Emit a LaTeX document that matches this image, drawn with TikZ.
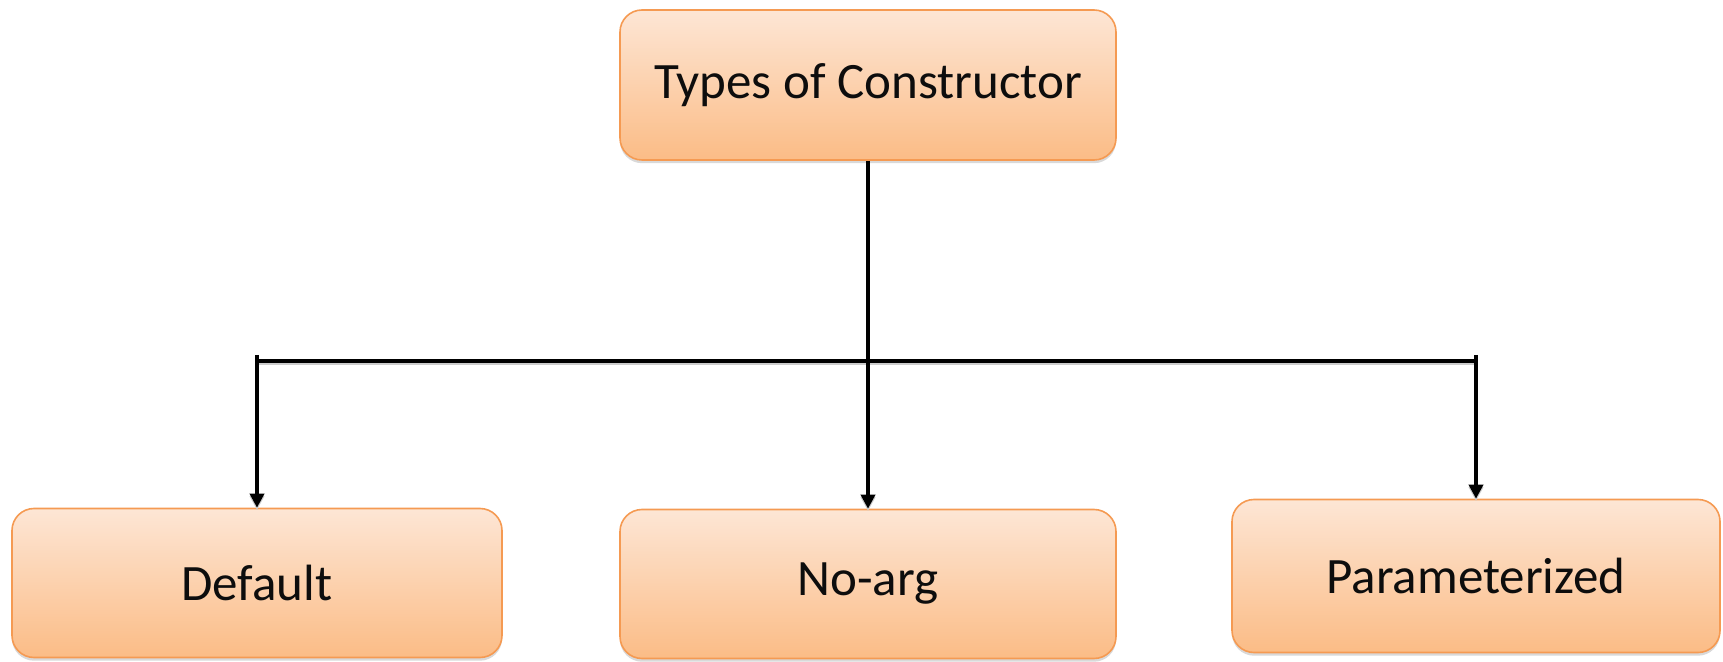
\documentclass[tikz,border=0pt]{standalone}
\usepackage{fontspec}
\setmainfont{Carlito}
\usetikzlibrary{arrows.meta,shadows}
\definecolor{boxtop}{HTML}{FDE6D5}
\definecolor{boxbot}{HTML}{FBBC86}
\definecolor{boxline}{HTML}{F59A52}
\tikzset{
  kindbox/.style={draw=boxline, line width=0.8pt, rounded corners=11pt,
    top color=boxtop, bottom color=boxbot,
    drop shadow={shadow xshift=0pt, shadow yshift=-1.6pt, opacity=0.25, fill=black!60},
    font=\fontsize{25.5}{30}\selectfont, text=black!95, inner sep=0pt},
  link/.style={line width=2pt, black,
    preaction={draw=black!20, line width=2pt, transform canvas={yshift=-1.2pt}}},
  linkarrow/.style={link, -{Triangle[length=7pt,width=7pt]}}
}
\begin{document}
\begin{tikzpicture}[x=0.5pt, y=-0.5pt]
  \useasboundingbox (0,0) rectangle (1723,662);
  % root and the three kinds
  \node[kindbox, minimum width=248pt, minimum height=75pt] (root) at (868,85) {Types of Constructor};
  \node[kindbox, minimum width=245pt, minimum height=74.5pt] (default) at (257,583) {Default};
  \node[kindbox, minimum width=248pt, minimum height=74.5pt] (noarg) at (868,584) {No-arg};
  \node[kindbox, minimum width=244pt, minimum height=76.5pt] (param) at (1476,576) {Parameterized};
  % branch bar
  \coordinate (bl) at (257,361);
  \coordinate (br) at (1476,361);
  \coordinate (bls) at (257,355);
  \coordinate (brs) at (1476,355);
  \draw[link] (bl) -- (br);
  \draw[linkarrow] (root.south) -- (noarg.north);
  \draw[linkarrow] (bls) -- (default.north);
  \draw[linkarrow] (brs) -- (param.north);
\end{tikzpicture}
\end{document}
